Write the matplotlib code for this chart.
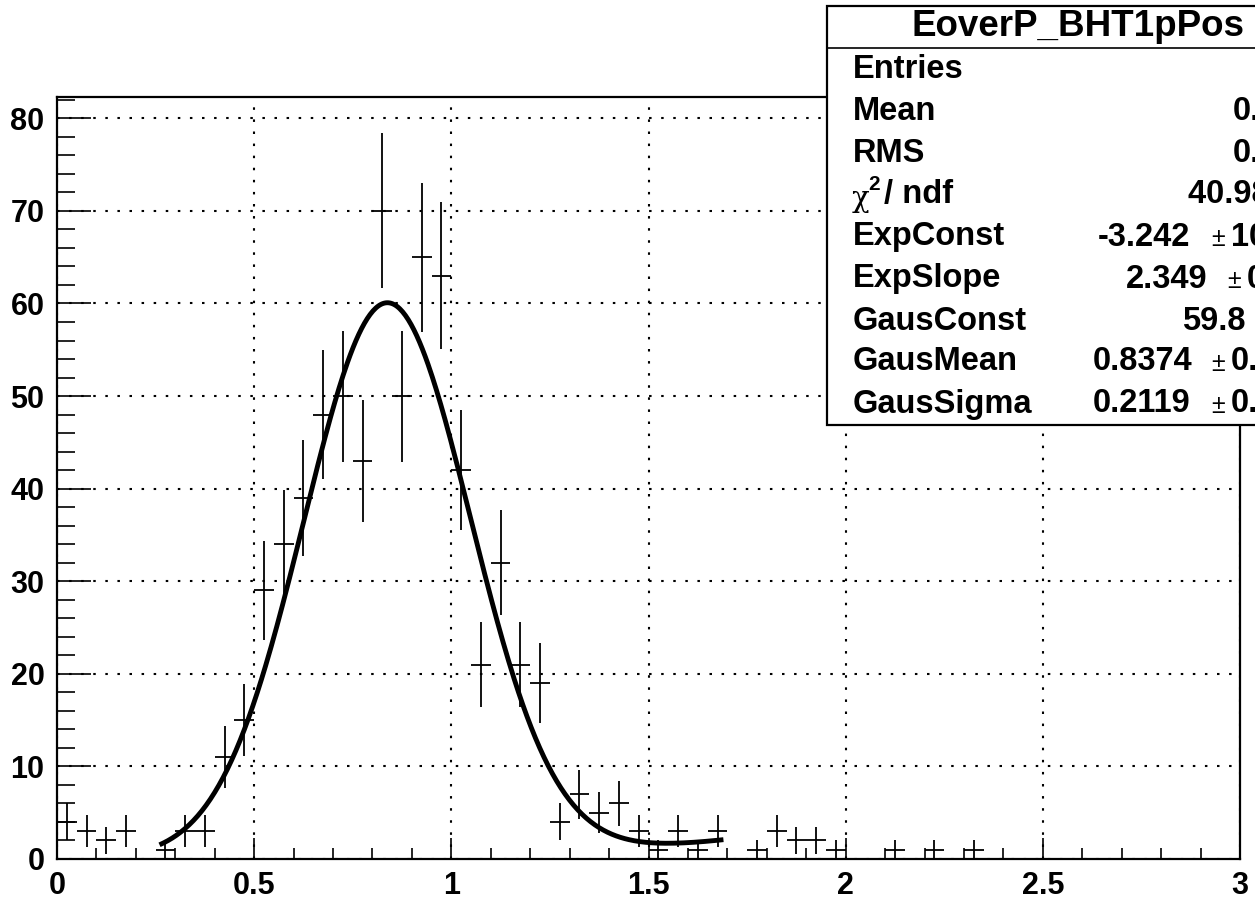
import numpy as np
import matplotlib
matplotlib.use('Agg')
import matplotlib.pyplot as plt
from matplotlib.patches import Rectangle
from matplotlib.lines import Line2D
from matplotlib.ticker import MultipleLocator, FixedLocator

plt.rcParams['font.family'] = ['Liberation Sans', 'DejaVu Sans']
plt.rcParams['font.weight'] = 'bold'

# === histogram data (bin centres, counts) ===
bin_width = 0.05
bin_centers = [0.025, 0.075, 0.125, 0.175, 0.275, 0.325, 0.375, 0.425, 0.475,
               0.525, 0.575, 0.625, 0.675, 0.725, 0.775, 0.825, 0.875, 0.925,
               0.975, 1.025, 1.075, 1.125, 1.175, 1.225, 1.275, 1.325, 1.375,
               1.425, 1.475, 1.525, 1.575, 1.625, 1.675, 1.775, 1.825, 1.875,
               1.925, 1.975, 2.125, 2.225, 2.325]
counts = [4, 3, 2, 3, 1, 3, 3, 11, 15,
          29, 34, 39, 48, 50, 43, 70, 50, 65,
          63, 42, 21, 32, 21, 19, 4, 7, 5,
          6, 3, 1, 3, 1, 3, 1, 3, 2,
          2, 1, 1, 1, 1]

# === fit parameters (expo + gaus) ===
exp_const = -3.242
exp_slope = 2.349
gaus_const = 59.8
gaus_mean = 0.8374
gaus_sigma = 0.2119
fit_range = (0.26, 1.69)

# === stats box text ===
stat_labels = ["Entries", "Mean", "RMS", None, "ExpConst",
               "ExpSlope", "GausConst", "GausMean", "GausSigma"]
stat_values = ["716", "0.8712", "0.3105", "40.98 / 35", "-3.242", "2.349",
               "59.8", "0.8374", "0.2119"]
stat_errors = [None, None, None, None, "10.53", "0.1071", "3.12", "0.0108", "0.0092"]

W, H = 1255, 900
fig = plt.figure(figsize=(W / 100, H / 100), dpi=100)
ax = fig.add_axes([57 / W, 1 - 859 / H, (1240 - 57) / W, (859 - 97) / H])

x = np.array(bin_centers)
y = np.array(counts, dtype=float)
ax.errorbar(x, y, xerr=bin_width / 2, yerr=np.sqrt(y), fmt='none',
            ecolor='black', elinewidth=1.3, capsize=0, zorder=3)

xf = np.linspace(fit_range[0], fit_range[1], 400)
yf = np.exp(exp_const + exp_slope * xf) + \
    gaus_const * np.exp(-0.5 * ((xf - gaus_mean) / gaus_sigma) ** 2)
ax.plot(xf, yf, color='black', lw=3.5, zorder=4, solid_capstyle='butt')

ax.set_xlim(0, 3)
ax.set_ylim(0, 82.3)
ax.xaxis.set_major_locator(FixedLocator([0, 0.5, 1, 1.5, 2, 2.5, 3]))
ax.set_xticklabels(["0", "0.5", "1", "1.5", "2", "2.5", "3"])
ax.xaxis.set_minor_locator(MultipleLocator(0.1))
ax.yaxis.set_major_locator(MultipleLocator(10))
ax.yaxis.set_minor_locator(MultipleLocator(2))

ax.tick_params(axis='both', which='both', direction='in', color='black',
               width=1.2, labelsize=22)
ax.tick_params(axis='x', which='major', length=15, pad=9)
ax.tick_params(axis='x', which='minor', length=8)
ax.tick_params(axis='y', which='major', length=24.5, pad=9)
ax.tick_params(axis='y', which='minor', length=13)
for lab in ax.get_xticklabels() + ax.get_yticklabels():
    lab.set_fontweight('bold')
for sp in ax.spines.values():
    sp.set_linewidth(1.6)

ax.grid(True, which='major', color='black', lw=1.5, linestyle=(0, (1.2, 4.6)))
ax.set_axisbelow(True)

# === stats box (figure pixel coordinates) ===
def fx(px):
    return px / W

def fy(py):
    return 1 - py / H

box = Rectangle((fx(827), fy(425)), fx(1330) - fx(827), fy(6) - fy(425),
                transform=fig.transFigure, facecolor='white', edgecolor='black',
                lw=1.6, zorder=10)
fig.add_artist(box)
fig.add_artist(Line2D([fx(827), fx(1330)], [fy(48), fy(48)],
                      transform=fig.transFigure, color='black', lw=1.2, zorder=11))
fig.text(fx(1078), fy(27), "EoverP_BHT1pPos", ha='center', va='center',
         fontsize=26.5, fontweight='bold', zorder=12)

fs = 23.5
row_y = [70, 112, 153, 195, 237, 279, 321, 362, 404]
value_x = [1290, 1233, 1233, 1188, 1098, 1126, 1182, 1093, 1093]
pm_x = [None, None, None, None, 1211, 1227, 1262, 1211, 1211]
for i, lab in enumerate(stat_labels):
    if lab is not None:
        fig.text(fx(853), fy(row_y[i]), lab, ha='left', va='center',
                 fontsize=fs, fontweight='bold', zorder=12)
    fig.text(fx(value_x[i]), fy(row_y[i]), stat_values[i], ha='left', va='center',
             fontsize=fs, fontweight='bold', zorder=12)
    if stat_errors[i] is not None:
        fig.text(fx(pm_x[i]), fy(row_y[i] + 2), "\u00b1", ha='left', va='center',
                 fontsize=18, fontweight='normal', zorder=12)
        fig.text(fx(pm_x[i] + 20), fy(row_y[i]), stat_errors[i], ha='left',
                 va='center', fontsize=fs, fontweight='bold', zorder=12)

# chi2 / ndf label: symbol-font chi, bold superscript
fig.text(fx(852), fy(199), "\u03c7", ha='left', va='center', fontsize=21,
         family='DejaVu Serif', fontweight='normal', zorder=12)
fig.text(fx(868), fy(184), "2", ha='left', va='center', fontsize=15,
         fontweight='bold', zorder=12)
fig.text(fx(884), fy(195), "/ ndf", ha='left', va='center', fontsize=fs,
         fontweight='bold', zorder=12)

fig.savefig('out.png', dpi=100)
